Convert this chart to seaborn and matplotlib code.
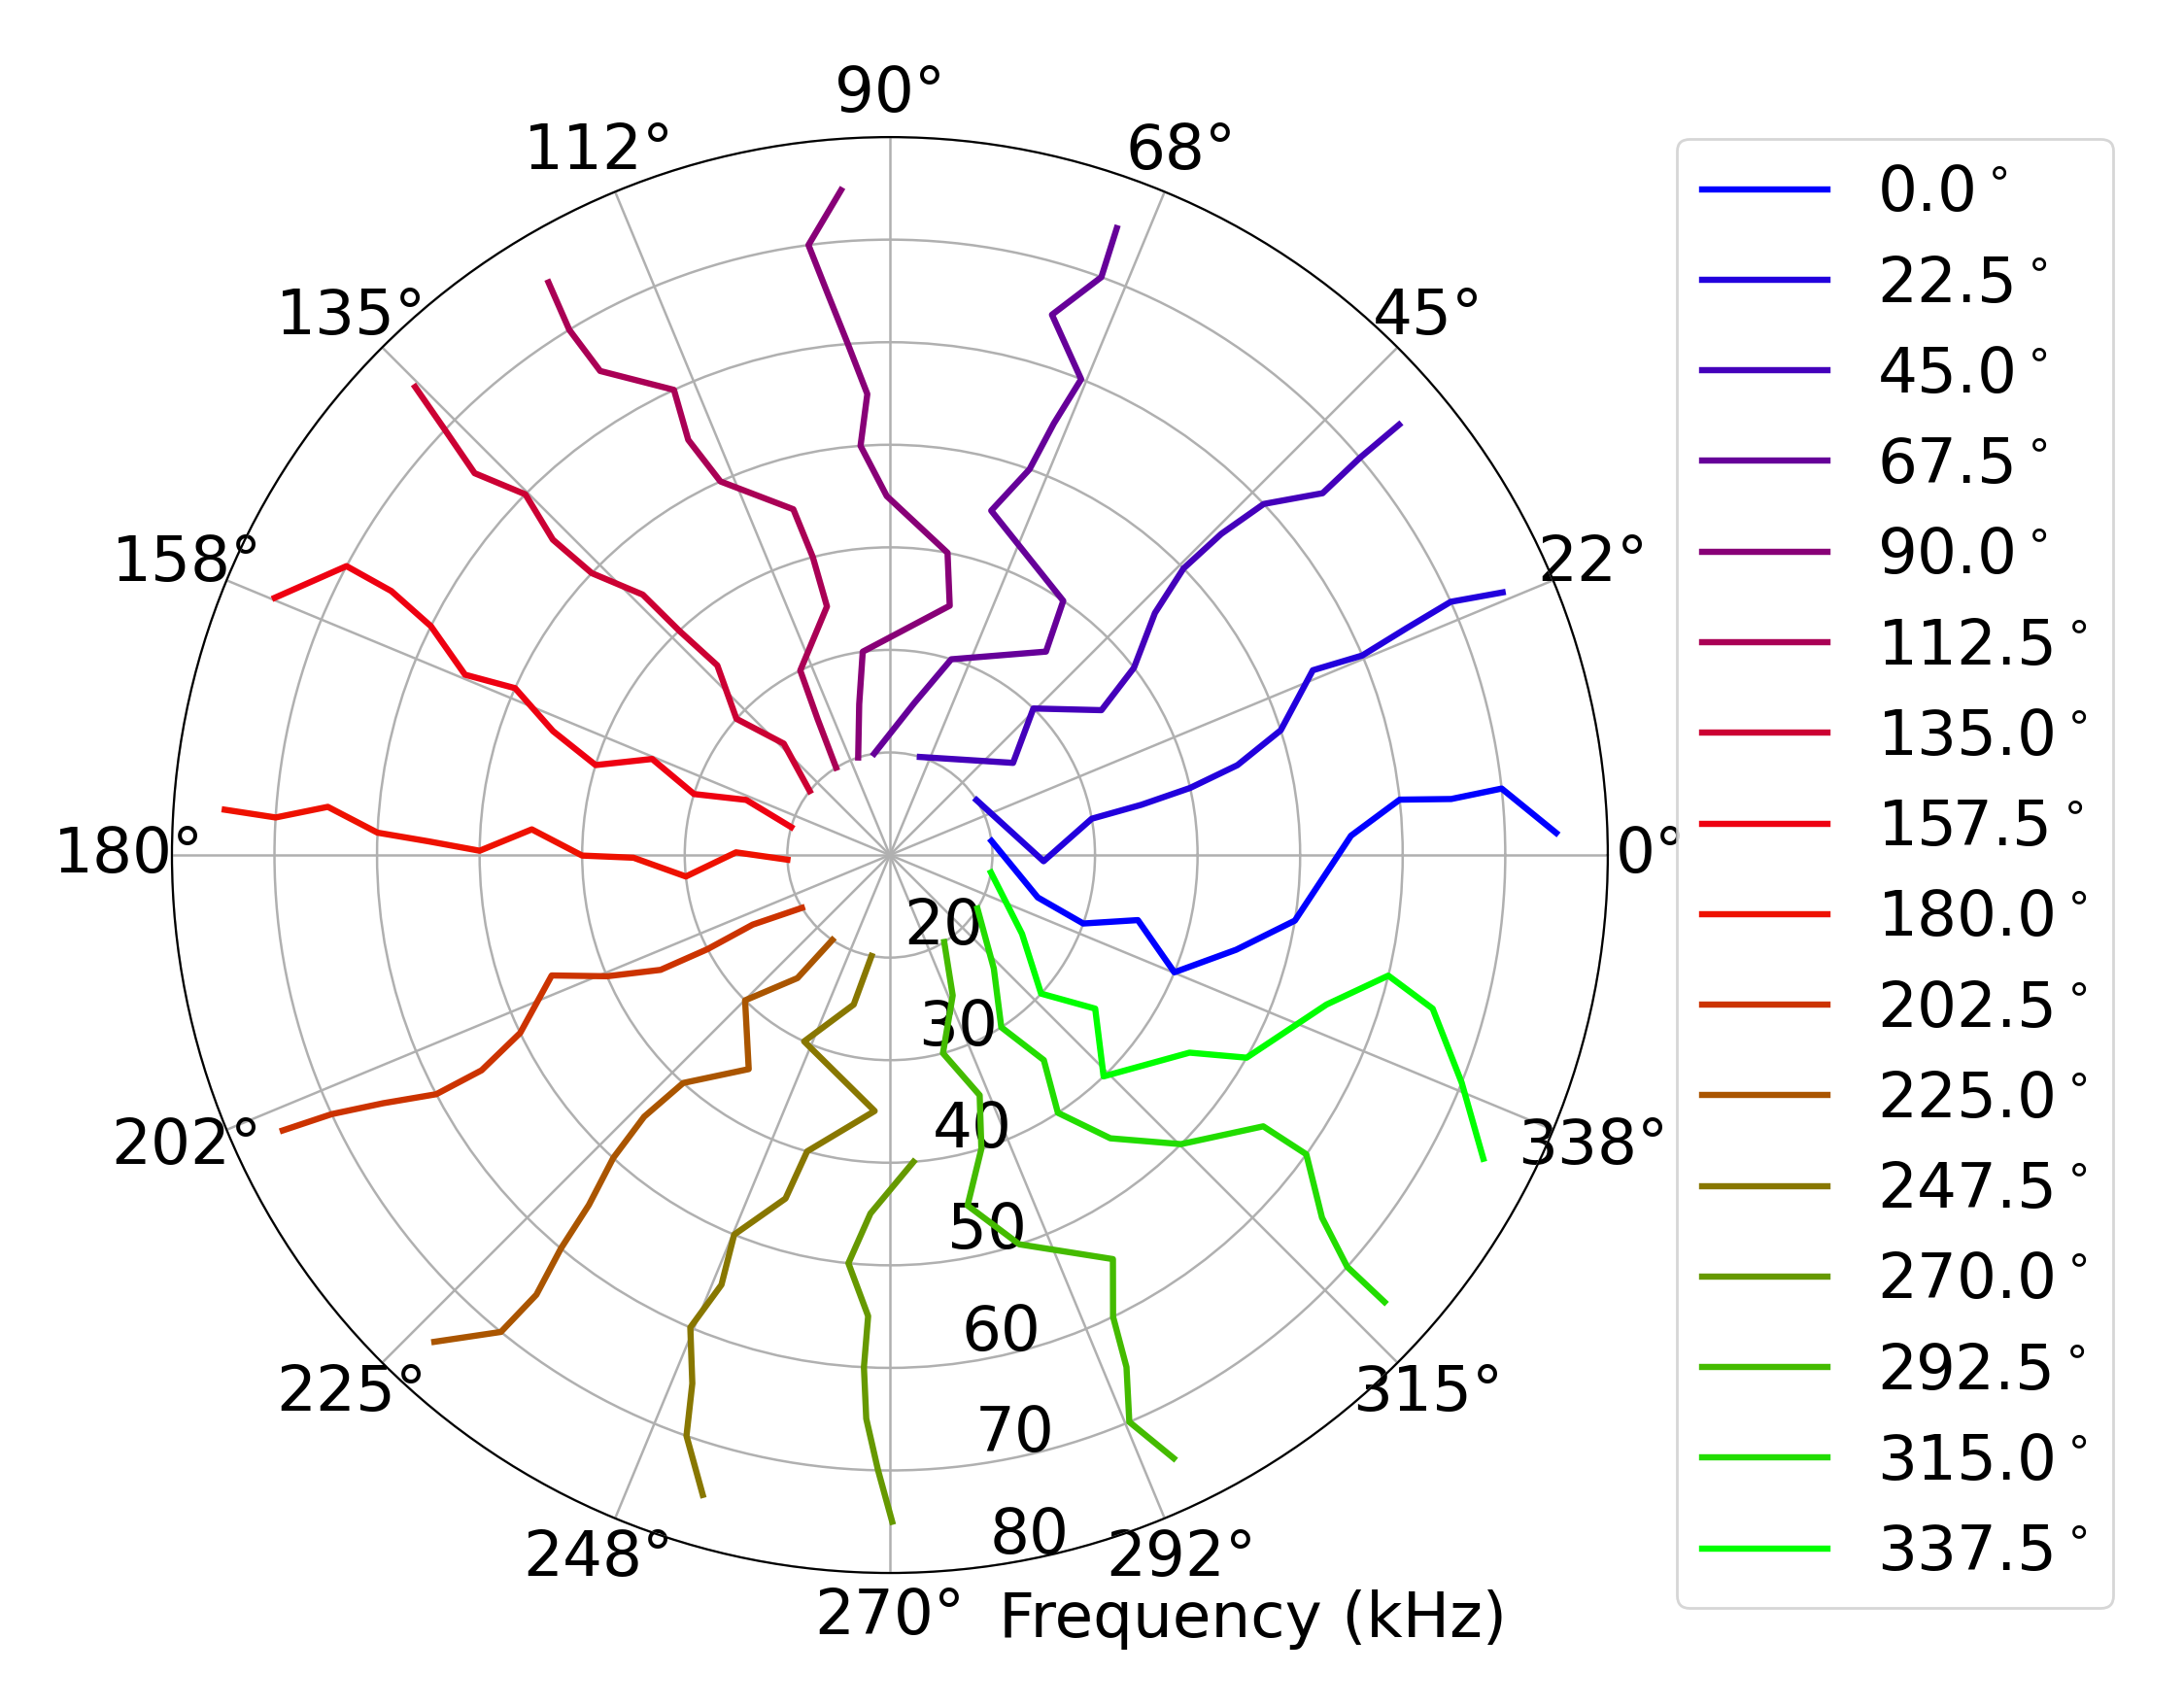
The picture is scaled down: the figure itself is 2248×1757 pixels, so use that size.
import numpy as np
import pandas as pd
import matplotlib
matplotlib.use("Agg")
import matplotlib.pyplot as plt
import seaborn as sns

# ---------------- data ----------------
FREQ_KHZ = [20, 25, 30, 35, 40, 45, 50, 55, 60, 65, 70, 75]
DIRECTIONS = [0.0, 22.5, 45.0, 67.5, 90.0, 112.5, 135.0, 157.5,
              180.0, 202.5, 225.0, 247.5, 270.0, 292.5, 315.0, 337.5]
nan = np.nan
ANG_000 = [7.9, -16.0, -19.5, -14.7, -22.4, -15.3, -9.2, 2.4, 6.2, 5.7, 6.2, 1.9]
ANG_022 = [32.4, -2.3, 10.2, 11.3, 12.6, 14.5, 17.7, 23.6, 22.9, 23.7, 24.3, 23.2]
ANG_045 = [73.0, 36.8, 45.6, 34.4, 37.5, 42.4, 44.3, 44.1, 43.2, 39.9, 40.2, 40.2]
ANG_067 = [98.8, 80.9, 72.6, 52.5, 55.7, 73.6, 70.1, 69.2, 68.1, 73.3, 69.9, 70.1]
ANG_090 = [108.0, 101.5, 97.6, 76.5, 79.2, 90.5, 94.1, 92.8, 94.7, 96.3, 97.6, 94.2]
ANG_112 = [121.6, 118.0, 115.9, 104.2, 104.5, 105.6, 114.4, 115.9, 114.9, 120.9, 121.4, 120.8]
ANG_135 = [141.4, 133.6, 138.4, 132.3, 133.2, 133.5, 136.6, 136.9, 135.3, 137.4, 136.3, 135.4]
ANG_157 = [164.2, 159.0, 162.7, 158.0, 163.0, 159.8, 156.0, 157.0, 153.5, 152.1, 152.0, 157.3]
ANG_180 = [182.6, 179.0, 186.0, 180.6, 180.1, 175.9, 179.4, 178.3, 177.5, 175.1, 176.5, 176.1]
ANG_202 = [211.0, 206.9, 207.3, 206.6, 203.2, 199.6, 205.7, 207.8, 207.8, 206.1, 204.9, 204.4]
ANG_225 = [235.9, 233.1, 225.1, 236.6, 227.8, 226.8, 227.6, 229.3, 230.1, 231.2, 230.8, 226.9]
ANG_247 = [259.7, 256.4, 245.3, 266.6, 254.4, 253.1, 247.7, 248.6, 247.1, 249.5, 250.7, 253.7]
ANG_270 = [nan, nan, nan, nan, 274.4, 266.9, 264.2, 267.3, 267.1, 267.6, 268.9, 270.2]
ANG_292 = [302.0, 294.1, 285.0, 290.5, 287.3, 282.5, 288.4, 298.9, 295.8, 294.8, 292.9, 295.2]
ANG_315 = [328.6, 312.5, 302.9, 306.9, 303.1, 307.9, 315.2, 324.0, 324.3, 320.0, 318.0, 317.9]
ANG_337 = [350.2, 329.2, 317.5, 323.2, 314.0, 326.6, 330.4, 341.1, 346.4, 344.2, 338.3, 332.9]

SERIES = [ANG_000, ANG_022, ANG_045, ANG_067, ANG_090, ANG_112, ANG_135, ANG_157,
          ANG_180, ANG_202, ANG_225, ANG_247, ANG_270, ANG_292, ANG_315, ANG_337]

THETA_TICKS = [0, 22.5, 45, 67.5, 90, 112.5, 135, 157.5,
               180, 202.5, 225, 247.5, 270, 292.5, 315, 337.5]
R_TICKS = [20, 30, 40, 50, 60, 70, 80]
R_LIMITS = (10, 80)

# ---------------- figure ----------------
FS = 23.2
plt.rcParams['font.family'] = ['DejaVu Sans']
plt.rcParams['font.size'] = FS

fig = plt.figure(figsize=(11.24, 8.785), dpi=200)
ax = fig.add_axes([0.0787, 0.0785, 0.6575, 0.8412], projection='polar')

cmap = plt.get_cmap('brg')
colors = cmap(np.linspace(0, 1, len(DIRECTIONS)))

for d, angs, col in zip(DIRECTIONS, SERIES, colors):
    df = pd.DataFrame({'theta': np.deg2rad(np.asarray(angs, dtype=float)),
                       'freq': FREQ_KHZ}).dropna()
    sns.lineplot(data=df, x='theta', y='freq', ax=ax, sort=False, estimator=None,
                 color=col, linewidth=2.3, label=f'{d:.1f}$^\\circ$')

ax.set_ylim(*R_LIMITS)
ax.set_yticks(R_TICKS)
ax.set_yticklabels([str(t) for t in R_TICKS])
ax.set_rlabel_position(-82)
ax.set_thetagrids(THETA_TICKS, labels=[f'{a:.0f}°' for a in THETA_TICKS])
ax.set_xlabel('')
ax.set_ylabel('')
ax.tick_params(labelsize=FS)
ax.tick_params(axis='x', pad=5.5)
ax.grid(True, color='#b0b0b0', linewidth=0.9)

handles, labels = ax.get_legend_handles_labels()
if ax.get_legend() is not None:
    ax.get_legend().remove()
fig.legend(handles, labels, loc='center left', bbox_to_anchor=(1726 / 2248, 0.4885),
           bbox_transform=fig.transFigure, borderaxespad=0, fontsize=FS,
           labelspacing=0.485, frameon=True, fancybox=True)

fig.text(1289 / 2248, 0.041, 'Frequency (kHz)', ha='center', va='baseline', fontsize=FS)

fig.savefig('out.png', dpi=200)
